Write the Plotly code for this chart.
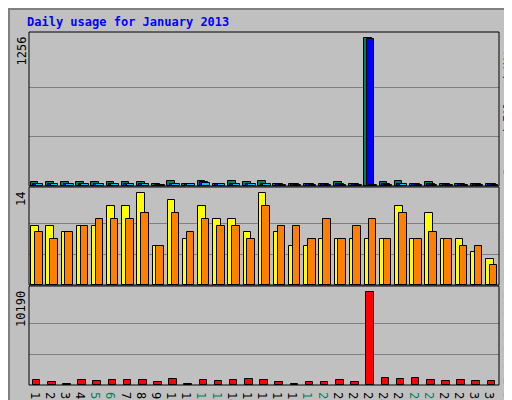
import plotly.graph_objects as go

days = list(range(1, 32))
weekends = [5, 6, 12, 13, 19, 20, 26, 27]

hits = [30, 30, 30, 30, 30, 30, 30, 30, 20, 40, 20, 40, 20, 40, 30, 40,
        20, 20, 20, 20, 30, 20, 1256, 30, 40, 20, 30, 20, 20, 20, 20]
files = [20, 20, 15, 20, 20, 20, 20, 20, 10, 20, 15, 30, 15, 20, 20, 20,
         15, 15, 15, 15, 20, 15, 1250, 20, 20, 15, 20, 15, 15, 15, 15]
pages = [15, 15, 15, 15, 15, 15, 15, 15, 5, 15, 15, 25, 15, 15, 15, 15,
         10, 10, 10, 10, 10, 10, 10, 10, 15, 10, 10, 10, 10, 10, 10]
visits = [9, 9, 8, 9, 9, 12, 12, 14, 6, 13, 7, 12, 10, 10, 8, 14,
          8, 6, 6, 7, 7, 7, 7, 7, 12, 7, 11, 7, 7, 5, 4]
sites = [8, 7, 8, 9, 10, 10, 10, 11, 6, 11, 8, 10, 9, 9, 7, 12,
         9, 9, 7, 10, 7, 9, 10, 7, 11, 7, 8, 7, 6, 6, 3]
kbytes = [517, 295, 150, 517, 406, 517, 517, 517, 295, 665, 150, 517, 406, 517, 665, 517,
          295, 150, 295, 295, 517, 295, 10190, 775, 665, 775, 517, 406, 517, 406, 406]

W, H = 512, 400
top, bot = 24, 377
left, right = 21, 491
ph = bot - top
pw = right - left
def dom(y0, y1):
    return [(bot - y1) / ph, (bot - y0) / ph]

fig = go.Figure()
font = "DejaVu Sans Mono"

def bars(vals, color, off, yax):
    fig.add_trace(go.Bar(x=days, y=vals, marker_color=color, width=0.5, offset=off,
                         marker_line=dict(color="black", width=1), yaxis=yax,
                         showlegend=False))

bars(hits, "#00805c", -0.38, "y")
bars(files, "#0000ff", -0.22, "y")
bars(pages, "#00c0ff", -0.06, "y")
bars(visits, "#ffff00", -0.35, "y2")
bars(sites, "#ff8000", -0.1, "y2")
bars(kbytes, "#ff0000", -0.25, "y3")

def yax(vals, d):
    m = max(vals)
    return dict(domain=dom(*d), range=[0, m * (d[1] - d[0]) / (d[1] - d[0] - 6)],
                tickvals=[m / 3, 2 * m / 3], showticklabels=False, ticks="",
                showgrid=True, gridcolor="#808080", gridwidth=1, zeroline=False,
                fixedrange=True, anchor="x")

fig.update_layout(
    width=W, height=H,
    margin=dict(l=left, r=W - right, t=top, b=H - bot, autoexpand=False),
    paper_bgcolor="#c0c0c0", plot_bgcolor="#c0c0c0", barmode="overlay",
    bargap=0,
    xaxis=dict(range=[0.5, 31.5], tickvals=days, showgrid=False, ticks="", anchor="y3",
               ticktext=[f"<span style='color:#00805c'>{d}</span>" if d in weekends else str(d) for d in days],
               tickfont=dict(family=font, size=12, color="black"), zeroline=False),
    yaxis=yax(hits, (24, 178)),
    yaxis2=yax(visits, (179, 277)),
    yaxis3=yax(kbytes, (278, 377)),
    font=dict(family=font, size=11),
)

# panel frames
for y0, y1 in [(24, 178), (179, 277), (278, 377)]:
    fig.add_shape(type="rect", xref="paper", yref="paper", x0=0, x1=1,
                  y0=(bot - y1) / ph, y1=(bot - y0) / ph, line=dict(color="black", width=1))
fig.add_shape(type="rect", xref="paper", yref="paper", x0=-(left - 1) / pw, x1=1 + (W - right - 3) / pw,
              y0=-(H - bot - 3) / ph, y1=1 + (top - 1) / ph, line=dict(color="#808080", width=2))

fig.add_annotation(text="<b>Daily usage for January 2013</b>", xref="paper", yref="paper",
                   x=-4 / pw, y=1 + 10 / ph, xanchor="left", yanchor="middle", showarrow=False,
                   font=dict(family=font, size=12, color="#0000ff"))

for txt, d in [(str(max(hits)), (24, 178)), (str(max(visits)), (179, 277)), (str(max(kbytes)), (278, 377))]:
    fig.add_annotation(text=txt, xref="paper", yref="paper", x=-8 / pw, y=(bot - d[0] - 3) / ph,
                       xanchor="center", yanchor="top", textangle=-90, showarrow=False,
                       font=dict(family=font, size=12, color="black"))

sep = "<span style='color:black'> / </span>"
rlabels = [
    ("<span style='color:#00c0ff'>Pages</span>" + sep + "<span style='color:#0000ff'>Files</span>" + sep +
     "<span style='color:#00805c'>Hits</span>", (24, 178)),
    ("<span style='color:#ff8000'>Sites</span>" + sep + "<span style='color:#e0e000'>Visits</span>", (179, 277)),
    ("<span style='color:#ff0000'>kB F</span>" + sep + "<span style='color:#0000ff'>kB In</span>" + sep +
     "<span style='color:#00805c'>kB Out</span>", (278, 377)),
]
for txt, d in rlabels:
    fig.add_annotation(text=txt, xref="paper", yref="paper", x=1 + 9 / pw, y=(bot - (d[0] + d[1]) / 2) / ph,
                       xanchor="center", yanchor="middle", textangle=-90, showarrow=False,
                       font=dict(family=font, size=11))

fig.write_html("out.html")
